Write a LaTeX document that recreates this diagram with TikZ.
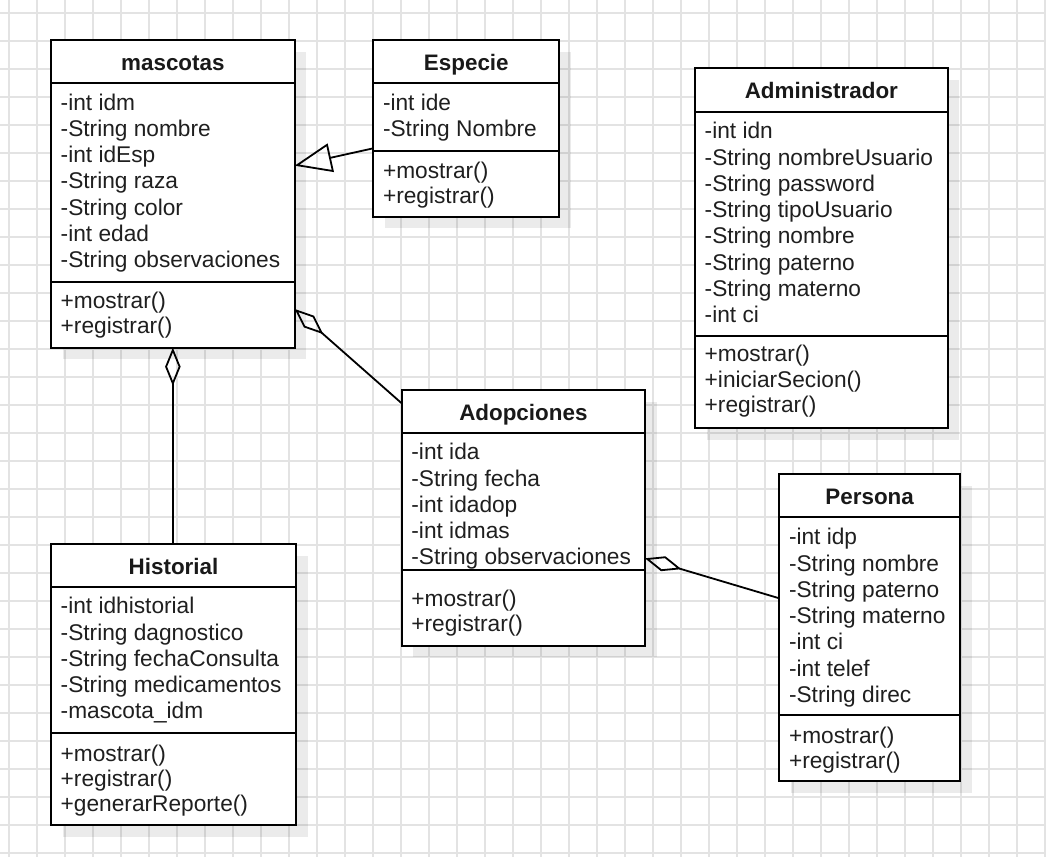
\documentclass[tikz,border=0pt]{standalone}
\usepackage{fontspec}
\setmainfont{Liberation Sans}
\usetikzlibrary{arrows.meta,shadows}
\begin{document}
\begin{tikzpicture}[x=1pt,y=-1pt,
  gridline/.style={draw=black!11, line width=1.4pt},
  classbox/.style={draw=black, line width=2pt, fill=white, inner sep=0pt, outer sep=0pt,
    anchor=north west, rectangle,
    drop shadow={shadow xshift=11.5pt, shadow yshift=-11.5pt, fill=black, opacity=0.08}},
  divider/.style={draw=black, line width=2pt},
  ctitle/.style={font=\bfseries\fontsize{22.4}{26}\selectfont, text=black!90, anchor=base, inner sep=0pt},
  member/.style={font=\fontsize{22.7}{26}\selectfont, text=black!88, anchor=base west, inner sep=0pt},
  conn/.style={draw=black, line width=1.8pt},
  gen/.style={conn, -{Triangle[open, length=37pt, width=29pt]}},
  agg/.style={conn, {Diamond[open, length=38pt, width=15.5pt]}-},
]
\useasboundingbox (0,0) rectangle (1046,857);
\fill[white] (0,0) rectangle (1046,857);
% grid
\foreach \i in {0,...,37} \draw[gridline] (9+28*\i,0) -- (9+28*\i,857);
\foreach \j in {0,...,30} \draw[gridline] (0,13+28*\j) -- (1046,13+28*\j);

% ---------- boxes ----------
\node[classbox, minimum width=243.7pt, minimum height=307.7pt] (masc) at (51,40) {};
\node[classbox, minimum width=186pt, minimum height=176.7pt] (esp) at (373.3,40) {};
\node[classbox, minimum width=252.7pt, minimum height=360pt] (adm) at (695,68.3) {};
\node[classbox, minimum width=243.3pt, minimum height=255.7pt] (adop) at (401.7,390) {};
\node[classbox, minimum width=180.7pt, minimum height=306.7pt] (pers) at (779.3,474.3) {};
\node[classbox, minimum width=245pt, minimum height=280.7pt] (hist) at (51,544.3) {};

% compartment dividers
\draw[divider] (51,83.3) -- (294.7,83.3);
\draw[divider] (51,281.7) -- (294.7,281.7);
\draw[divider] (373.3,83.3) -- (559.3,83.3);
\draw[divider] (373.3,150.7) -- (559.3,150.7);
\draw[divider] (695,111.7) -- (947.7,111.7);
\draw[divider] (695,336) -- (947.7,336);
\draw[divider] (401.7,433.3) -- (645,433.3);
\draw[divider] (401.7,570) -- (645,570);
\draw[divider] (779.3,517.3) -- (960,517.3);
\draw[divider] (779.3,715) -- (960,715);
\draw[divider] (51,587.3) -- (296,587.3);
\draw[divider] (51,733.3) -- (296,733.3);

% ---------- connectors ----------
\draw[gen] ([yshift=-108.3pt]esp.north west) -- ([yshift=-125.7pt]masc.north east);
\draw[agg] (masc.south) -- (masc.south |- hist.north);
\draw[agg] ([yshift=-269pt]masc.north east) -- ([yshift=-13.3pt]adop.north west);
\draw[agg] ([yshift=-168.3pt]adop.north east) -- ([yshift=-124pt]pers.north west);

% ---------- texts ----------
% mascotas
\node[ctitle] (masc-t) at (172.85,70) {mascotas};
\foreach \t [count=\i from 0] in {-int idm,-String nombre,-int idEsp,-String raza,-String color,-int edad,-String observaciones}
  \node[member] (masc-a\i) at (60.5,110+26.3*\i) {\t};
\foreach \t [count=\i from 0] in {+mostrar(),+registrar()}
  \node[member] (masc-m\i) at (60.5,308+25*\i) {\t};
% Especie
\node[ctitle] (esp-t) at (466.3,70) {Especie};
\foreach \t [count=\i from 0] in {-int ide,-String Nombre}
  \node[member] (esp-a\i) at (382.8,110+26.3*\i) {\t};
\foreach \t [count=\i from 0] in {+mostrar(),+registrar()}
  \node[member] (esp-m\i) at (382.8,178+25*\i) {\t};
% Administrador
\node[ctitle] (adm-t) at (821.35,98.5) {Administrador};
\foreach \t [count=\i from 0] in {-int idn,-String nombreUsuario,-String password,-String tipoUsuario,-String nombre,-String paterno,-String materno,-int ci}
  \node[member] (adm-a\i) at (704.5,138.7+26.3*\i) {\t};
\foreach \t [count=\i from 0] in {+mostrar(),+iniciarSecion(),+registrar()}
  \node[member] (adm-m\i) at (704.5,361.3+25.8*\i) {\t};
% Adopciones
\node[ctitle] (adop-t) at (523.35,420) {Adopciones};
\foreach \t [count=\i from 0] in {-int ida,-String fecha,-int idadop,-int idmas,-String observaciones}
  \node[member] (adop-a\i) at (411.2,459.7+26.3*\i) {\t};
\foreach \t [count=\i from 0] in {+mostrar(),+registrar()}
  \node[member] (adop-m\i) at (411.2,606+25*\i) {\t};
% Persona
\node[ctitle] (pers-t) at (869.65,504.3) {Persona};
\foreach \t [count=\i from 0] in {-int idp,-String nombre,-String paterno,-String materno,-int ci,-int telef,-String direc}
  \node[member] (pers-a\i) at (788.8,544.7+26.3*\i) {\t};
\foreach \t [count=\i from 0] in {+mostrar(),+registrar()}
  \node[member] (pers-m\i) at (788.8,743+25*\i) {\t};
% Historial
\node[ctitle] (hist-t) at (173.5,574.3) {Historial};
\foreach \t [count=\i from 0] in {-int idhistorial,-String dagnostico,-String fechaConsulta,-String medicamentos,-mascota\_idm}
  \node[member] (hist-a\i) at (60.5,613.7+26.3*\i) {\t};
\foreach \t [count=\i from 0] in {+mostrar(),+registrar(),+generarReporte()}
  \node[member] (hist-m\i) at (60.5,761.3+25*\i) {\t};
\end{tikzpicture}
\end{document}
